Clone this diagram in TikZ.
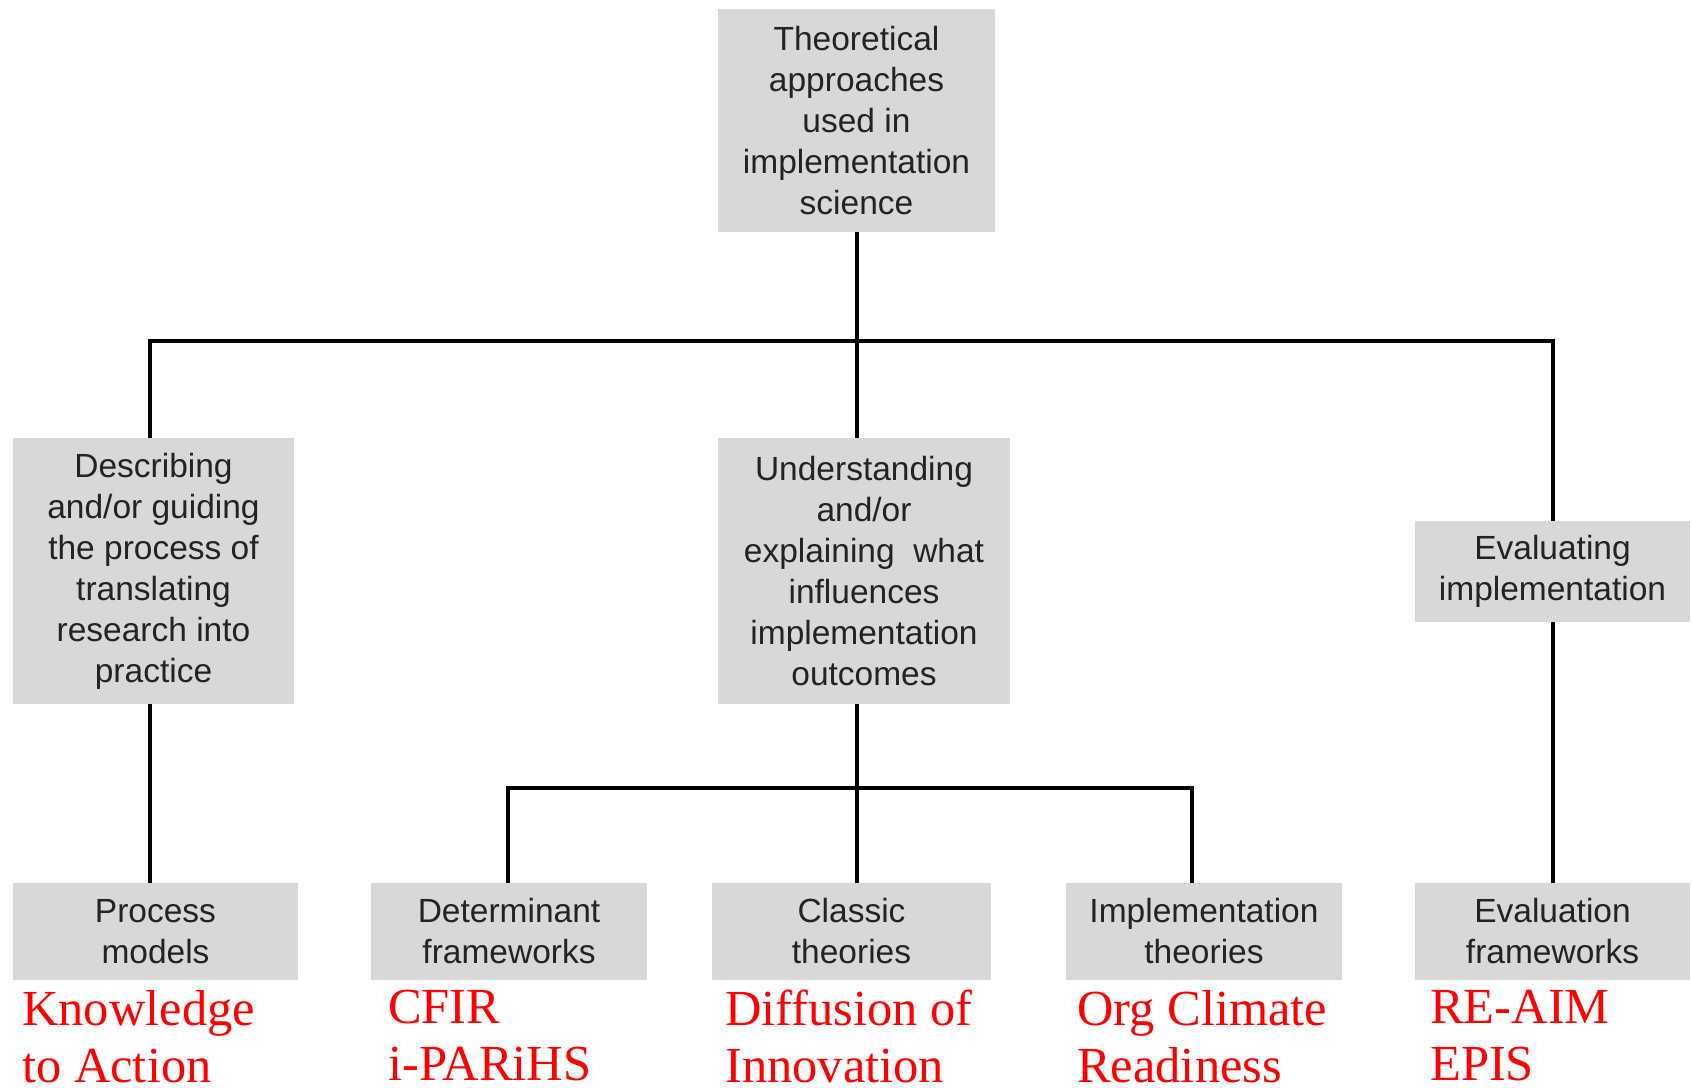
\documentclass[tikz,border=0pt]{standalone}
\usepackage{fontspec}
\setmainfont{Liberation Serif}
\newfontfamily\boxfont{Liberation Sans}
\definecolor{boxgray}{RGB}{216,216,216}
\definecolor{boxtext}{RGB}{35,35,35}
\begin{document}
\begin{tikzpicture}[x=1pt,y=-1pt,
  box/.style={fill=boxgray, text=boxtext, inner sep=0pt, align=center,
    font=\boxfont\fontsize{33.5}{41}\selectfont},
  link/.style={line width=4.5pt, draw=black},
  example/.style={text=red, inner sep=0pt, anchor=north west, align=left,
    font=\fontsize{50.5}{57}\selectfont}]
\useasboundingbox (0,0) rectangle (1692,1087);

% root
\node[box, minimum width=277pt, minimum height=223pt] (root) at (856.5,120.5)
  {Theoretical\\approaches\\used in\\implementation\\science};

% second level
\node[box, minimum width=281pt, minimum height=266pt] (desc) at (153.5,571)
  {Describing\\and/or guiding\\the process of\\translating\\research into\\practice};
\node[box, minimum width=292pt, minimum height=266pt] (under) at (864,571)
  {Understanding\\and/or\\explaining~ what\\influences\\implementation\\outcomes};
\node[box, minimum width=275pt, minimum height=101pt] (evalimp) at (1552.5,571.5)
  {Evaluating\\implementation};

% leaves
\node[box, minimum width=285pt, minimum height=97pt] (proc) at (155.5,931.5)
  {Process\\models};
\node[box, minimum width=276pt, minimum height=97pt] (det) at (509,931.5)
  {Determinant\\frameworks};
\node[box, minimum width=279pt, minimum height=97pt] (classic) at (851.5,931.5)
  {Classic\\theories};
\node[box, minimum width=276pt, minimum height=97pt] (impl) at (1204,931.5)
  {Implementation\\theories};
\node[box, minimum width=275pt, minimum height=97pt] (evalfw) at (1552.5,931.5)
  {Evaluation\\frameworks};

% examples under each leaf
\node[example] (exproc) at (22,990) {Knowledge\\to Action};
\node[example] (exdet) at (388,990) {CFIR\\i-PARiHS};
\node[example] (exclassic) at (725,990) {Diffusion of\\Innovation};
\node[example] (eximpl) at (1077,990) {Org Climate\\Readiness};
\node[example] (exevalfw) at (1430,990) {RE-AIM\\EPIS};

% connectors
\coordinate (barL) at (150,341);
\coordinate (barM) at (857,341);
\coordinate (barR) at (1553,341);
\coordinate (subL) at (508,788);
\coordinate (subM) at (857,788);
\coordinate (subR) at (1192,788);

\draw[link] (barM |- root.south) -- (barM |- under.north);
\draw[link] (barL |- desc.north) -- (barL) -- (barR) -- (barR |- evalimp.north);
\draw[link] (barL |- desc.south) -- (barL |- proc.north);
\draw[link] (barR |- evalimp.south) -- (barR |- evalfw.north);
\draw[link] (subM |- under.south) -- (subM |- classic.north);
\draw[link] (subL |- det.north) -- (subL) -- (subR) -- (subR |- impl.north);
\end{tikzpicture}
\end{document}
